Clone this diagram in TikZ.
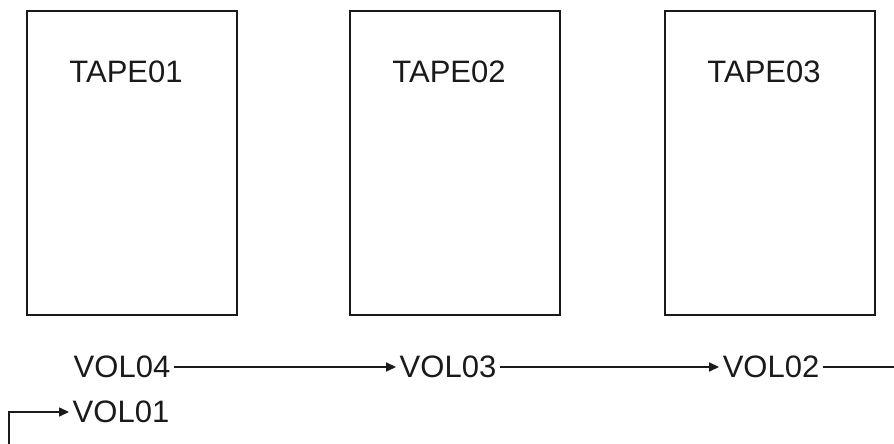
\documentclass[tikz,border=0pt]{standalone}
\usepackage{fontspec}
\setmainfont{Liberation Sans}
\usepackage{xcolor}
\usetikzlibrary{calc,arrows.meta}
\definecolor{tapeink}{HTML}{1A1A1A}
\tikzset{every picture/.append style={font=\fontsize{31}{37}\selectfont}}
\tikzset{
  tapebox/.style={draw=tapeink,line width=2.5pt,minimum width=210pt,minimum height=304pt,inner sep=0pt},
  volname/.style={inner sep=3.5pt,text=tapeink},
  chain/.style={draw=tapeink,line width=1.5pt,-{Triangle[length=10pt,width=9pt]}}
}

\begin{document}
\begin{tikzpicture}[x=1pt,y=-1pt]
    \useasboundingbox (0,0) rectangle (894,444);
    % tapes
    \node[tapebox] (tape1) at (132,163) {};
    \node[tapebox] (tape2) at (455,163) {};
    \node[tapebox] (tape3) at (770,163) {};
    \node[text=tapeink] (lab1) at (126,72) {TAPE01};
    \node[text=tapeink] (lab2) at (449,72) {TAPE02};
    \node[text=tapeink] (lab3) at (764,72) {TAPE03};
    % volume chain
    \node[volname] (vol4) at (122,367) {VOL04};
    \node[volname] (vol3) at (448,367) {VOL03};
    \node[volname] (vol2) at (771,367) {VOL02};
    \node[volname] (vol1) at (121,412) {VOL01};
    \coordinate (wrapR) at (894,367);
    \coordinate (wrapL) at (9,444);
    \draw[chain] (vol4) -- (vol3);
    \draw[chain] (vol3) -- (vol2);
    \draw[chain,-] (vol2) -- (wrapR);
    \draw[chain] (wrapL) |- (vol1);
  \end{tikzpicture}
\end{document}
